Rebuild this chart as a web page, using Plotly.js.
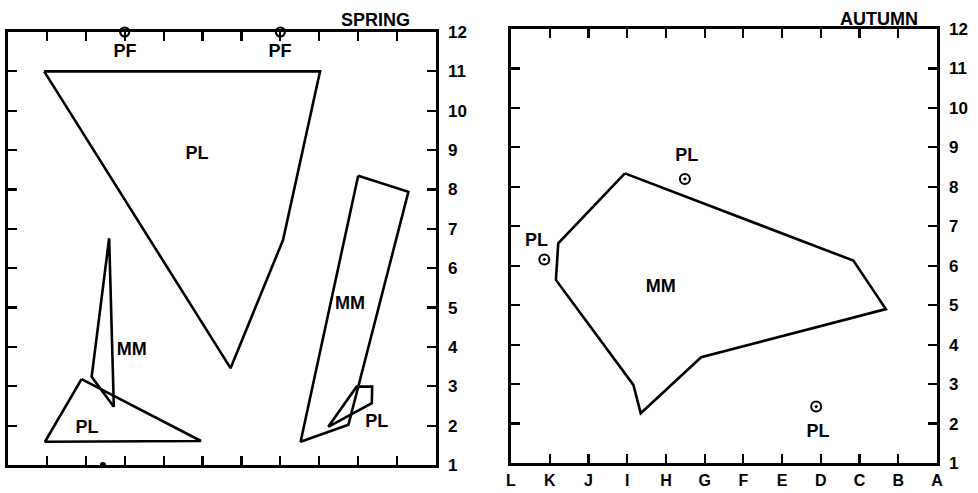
<!DOCTYPE html>
<html>
<head>
<meta charset="utf-8">
<script src="https://cdn.plot.ly/plotly-3.0.1.min.js"></script>
<style>
html,body{margin:0;padding:0;background:#fff;}
#chart{width:978px;height:493px;}
</style>
</head>
<body>
<div id="chart"></div>
<script>
// ---- axis categories / ticks ----
const xLetters = ['L','K','J','I','H','G','F','E','D','C','B','A'];
const yTickVals = [1,2,3,4,5,6,7,8,9,10,11,12];

// ---- SPRING panel polygons (x: 0=L .. 11=A, y: 1..12) ----
const springPL1X = [0.93, 8.02, 7.07, 5.72, 0.93];
const springPL1Y = [11.0, 11.0, 6.72, 3.46, 11.0];
const springMM1X = [2.60, 2.15, 2.72, 2.60];
const springMM1Y = [6.76, 3.24, 2.48, 6.76];
const springPL2X = [1.89, 0.95, 4.96, 1.89];
const springPL2Y = [3.18, 1.59, 1.61, 3.18];
const springMM2X = [9.00, 10.29, 8.75, 7.52, 9.00];
const springMM2Y = [8.35, 7.94, 2.02, 1.59, 8.35];
const springPL3X = [8.23, 8.96, 9.36, 9.35, 8.23];
const springPL3Y = [1.97, 2.99, 2.99, 2.57, 1.97];
const springPFX = [3.0, 7.0];
const springPFY = [12, 12];
const springDotX = [2.44];
const springDotY = [1.0];

const springLabelText = ['PL','MM','PL','MM','PL','PF','PF'];
const springLabelX = [4.86, 3.18, 2.03, 8.79, 9.48, 3.01, 6.99];
const springLabelY = [8.88, 3.90, 1.94, 5.09, 2.07, 11.47, 11.47];

// ---- AUTUMN panel ----
const autumnMMX = [2.94, 8.84, 9.68, 4.91, 3.35, 3.16, 1.16, 1.22, 2.94];
const autumnMMY = [8.34, 6.13, 4.90, 3.68, 2.26, 2.98, 5.64, 6.57, 8.34];
const autumnPLX = [4.49, 0.86, 7.88];
const autumnPLY = [8.20, 6.16, 2.43];

const autumnLabelText = ['PL','PL','PL','MM'];
const autumnLabelX = [4.54, 0.66, 7.93, 3.87];
const autumnLabelY = [8.76, 6.61, 1.78, 5.44];

const panelTitles = ['SPRING', 'AUTUMN'];

const FONT = 'Liberation Sans, Arial, sans-serif';
const LW = 2.6;

function poly(x, y, xa, ya) {
  return {type:'scatter', mode:'lines', x:x, y:y, xaxis:xa, yaxis:ya,
    line:{color:'#000', width:LW}, hoverinfo:'skip', showlegend:false, cliponaxis:false};
}
function labels(x, y, t, xa, ya) {
  return {type:'scatter', mode:'text', x:x, y:y, text:t, xaxis:xa, yaxis:ya,
    textposition:'middle center', textfont:{family:FONT, size:18, color:'#000', weight:'bold'},
    hoverinfo:'skip', showlegend:false, cliponaxis:false};
}

const traces = [
  poly(springPL1X, springPL1Y, 'x', 'y'),
  poly(springMM1X, springMM1Y, 'x', 'y'),
  poly(springPL2X, springPL2Y, 'x', 'y'),
  poly(springMM2X, springMM2Y, 'x', 'y'),
  poly(springPL3X, springPL3Y, 'x', 'y'),
  {type:'scatter', mode:'markers', x:springPFX, y:springPFY, xaxis:'x', yaxis:'y',
   marker:{symbol:'circle-open', size:9, color:'#000', line:{width:2.2, color:'#000'}},
   showlegend:false, hoverinfo:'skip', cliponaxis:false},
  {type:'scatter', mode:'markers', x:springDotX, y:springDotY, xaxis:'x', yaxis:'y',
   marker:{symbol:'circle', size:6, color:'#000'}, showlegend:false, hoverinfo:'skip', cliponaxis:false},
  labels(springLabelX, springLabelY, springLabelText, 'x', 'y'),

  poly(autumnMMX, autumnMMY, 'x2', 'y2'),
  {type:'scatter', mode:'markers', x:autumnPLX, y:autumnPLY, xaxis:'x2', yaxis:'y2',
   marker:{symbol:'circle-open-dot', size:10, color:'#000', line:{width:2, color:'#000'}},
   showlegend:false, hoverinfo:'skip', cliponaxis:false},
  labels(autumnLabelX, autumnLabelY, autumnLabelText, 'x2', 'y2')
];

function xAxis(domain, anchor, showLabels) {
  return {domain:domain, anchor:anchor, range:[0,11], tickvals:[0,1,2,3,4,5,6,7,8,9,10,11],
    ticktext:xLetters, showticklabels:showLabels, ticks:'inside', ticklen:9, tickwidth:2.2,
    tickcolor:'#000', showline:true, linecolor:'#000', linewidth:LW, mirror:'allticks',
    showgrid:false, zeroline:false, fixedrange:true, ticklabelstandoff:1,
    tickfont:{family:FONT, size:16, color:'#000', weight:'bold'}};
}
function yAxis(domain, anchor) {
  return {domain:domain, anchor:anchor, side:'right', range:[1,12], tickvals:yTickVals,
    ticks:'inside', ticklen:9, tickwidth:2.2, tickcolor:'#000', showline:true,
    linecolor:'#000', linewidth:LW, mirror:'allticks', showgrid:false, zeroline:false,
    fixedrange:true, ticklabelstandoff:6,
    tickfont:{family:FONT, size:17, color:'#000', weight:'bold'}};
}

const layout = {
  width:978, height:493,
  margin:{l:0, r:0, t:0, b:0},
  paper_bgcolor:'#fff', plot_bgcolor:'#fff',
  showlegend:false,
  xaxis: xAxis([8/978, 436/978], 'y', false),
  yaxis: yAxis([28/493, 461/493], 'x'),
  xaxis2: xAxis([511/978, 937/978], 'y2', true),
  yaxis2: yAxis([30/493, 464/493], 'x2'),
  annotations:[
    {text:panelTitles[0], xref:'x domain', yref:'paper', x:0.859, y:0.9594,
     xanchor:'center', yanchor:'middle', showarrow:false,
     font:{family:FONT, size:18, color:'#000', weight:'bold'}},
    {text:panelTitles[1], xref:'x2 domain', yref:'paper', x:0.864, y:0.9615,
     xanchor:'center', yanchor:'middle', showarrow:false,
     font:{family:FONT, size:18, color:'#000', weight:'bold'}}
  ]
};

Plotly.newPlot('chart', traces, layout, {displayModeBar:false, staticPlot:true});
</script>
</body>
</html>
